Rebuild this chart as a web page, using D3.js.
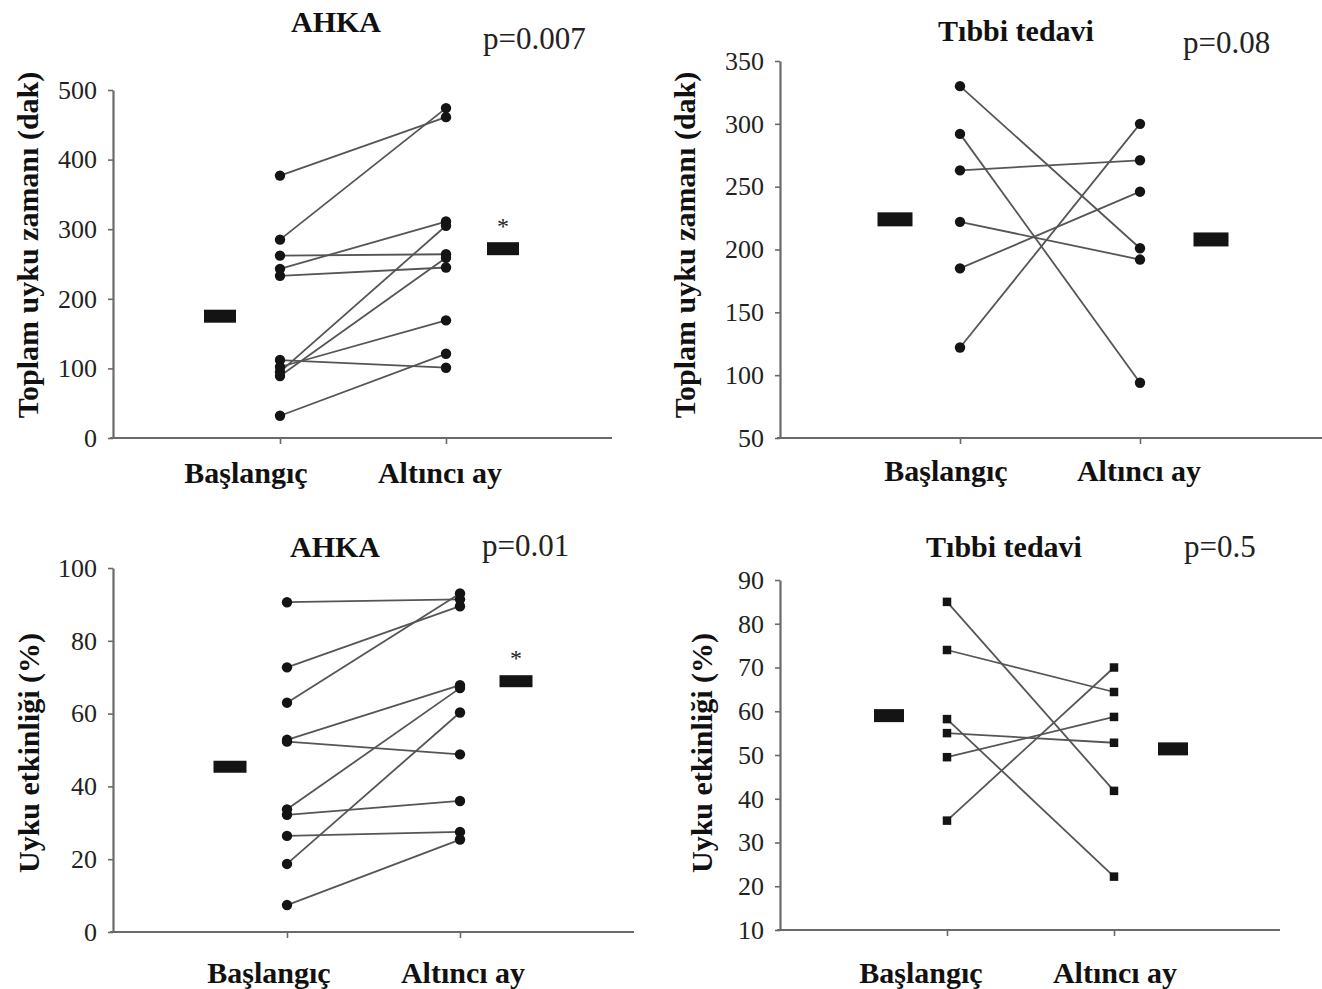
<!DOCTYPE html>
<html>
<head>
<meta charset="utf-8">
<script src="https://cdn.jsdelivr.net/npm/d3@7"></script>
<style>
  body { margin: 0; background: #fff; }
  svg { display: block; }
  text { font-family: "Liberation Serif", "Times New Roman", Times, serif; }
</style>
</head>
<body>
<svg id="chart" width="1322" height="989"></svg>
<script>
// ---- Data -------------------------------------------------------------
const categories = ["Başlangıç", "Altıncı ay"];

// Toplam uyku zamanı (dak) — AHKA
const tstAhkaBaseline = [377, 285, 262, 243, 233, 112, 102, 95, 89, 32];
const tstAhkaMonth6   = [461, 474, 264, 311, 245, 101, 169, 305, 259, 121];
const tstAhkaMeans    = [175, 272];
const tstAhkaTicks    = [0, 100, 200, 300, 400, 500];

// Toplam uyku zamanı (dak) — Tıbbi tedavi
const tstMedBaseline = [330, 292, 263, 222, 185, 122];
const tstMedMonth6   = [201, 94, 271, 192, 246, 300];
const tstMedMeans    = [224, 208];
const tstMedTicks    = [50, 100, 150, 200, 250, 300, 350];

// Uyku etkinliği (%) — AHKA
const effAhkaBaseline = [90.6, 72.7, 63, 52.8, 52.3, 33.7, 32.2, 26.4, 18.7, 7.4];
const effAhkaMonth6   = [91.4, 89.5, 93, 67.8, 48.8, 67.0, 36, 27.5, 60.3, 25.4];
const effAhkaMeans    = [45.4, 68.9];
const effAhkaTicks    = [0, 20, 40, 60, 80, 100];

// Uyku etkinliği (%) — Tıbbi tedavi
const effMedBaseline = [85, 74, 58.2, 55, 49.5, 35];
const effMedMonth6   = [41.8, 64.4, 22.2, 52.8, 58.7, 70];
const effMedMeans    = [59, 51.4];
const effMedTicks    = [10, 20, 30, 40, 50, 60, 70, 80, 90];

const groupTitles = ["AHKA", "Tıbbi tedavi", "AHKA", "Tıbbi tedavi"];
const pValues     = ["p=0.007", "p=0.08", "p=0.01", "p=0.5"];
const yTitles     = ["Toplam uyku zamanı (dak)", "Toplam uyku zamanı (dak)",
                     "Uyku etkinliği (%)", "Uyku etkinliği (%)"];

// ---- Panel layout -----------------------------------------------------
const panels = [
  { base: tstAhkaBaseline, six: tstAhkaMonth6, means: tstAhkaMeans, ticks: tstAhkaTicks,
    domain: [0, 500], range: [438, 90], axisX: 113, axisY: 438, extent: [110, 612],
    catX: [280, 446], labelX: [246, 440], labelY: 483,
    meanOff: [-60, 57], meanW: 32, meanH: 13,
    titleXY: [336, 32], pXY: [483, 49], yTitleXY: [27, 245], star: true, marker: "circle" },
  { base: tstMedBaseline, six: tstMedMonth6, means: tstMedMeans, ticks: tstMedTicks,
    domain: [50, 350], range: [438, 61], axisX: 780, axisY: 438, extent: [777, 1322],
    catX: [960, 1140], labelX: [946, 1139], labelY: 481,
    meanOff: [-65, 71], meanW: 35, meanH: 14,
    titleXY: [1016, 41], pXY: [1183, 53], yTitleXY: [684, 245], star: false, marker: "circle" },
  { base: effAhkaBaseline, six: effAhkaMonth6, means: effAhkaMeans, ticks: effAhkaTicks,
    domain: [0, 100], range: [932, 568], axisX: 113, axisY: 932, extent: [110, 634],
    catX: [287, 460], labelX: [269, 463], labelY: 983,
    meanOff: [-57, 56], meanW: 33, meanH: 12,
    titleXY: [335, 557], pXY: [482, 556], yTitleXY: [28, 753], star: true, marker: "circle" },
  { base: effMedBaseline, six: effMedMonth6, means: effMedMeans, ticks: effMedTicks,
    domain: [10, 90], range: [930, 580], axisX: 780, axisY: 930, extent: [777, 1280],
    catX: [947, 1114], labelX: [921, 1115], labelY: 983,
    meanOff: [-58, 59], meanW: 30, meanH: 13,
    titleXY: [1004, 557], pXY: [1184, 557], yTitleXY: [701, 753], star: false, marker: "square" }
];

const AXIS_COLOR = "#6a6a6a";
const LINE_COLOR = "#555";
const MARK_COLOR = "#141414";

const svg = d3.select("#chart");

panels.forEach((p, pi) => {
  const g = svg.append("g");
  const y = d3.scaleLinear().domain(p.domain).range(p.range);
  const x = d3.scaleOrdinal().domain(categories).range(p.catX);

  // y axis
  const yAxis = d3.axisLeft(y).tickValues(p.ticks).tickSize(5).tickSizeOuter(0).tickPadding(11);
  const ya = g.append("g").attr("transform", `translate(${p.axisX},0)`).call(yAxis);
  ya.select(".domain").attr("stroke", AXIS_COLOR).attr("stroke-width", 2.2);
  ya.selectAll(".tick line").attr("stroke", AXIS_COLOR).attr("stroke-width", 1.6);
  ya.selectAll(".tick text")
    .attr("font-size", 26).attr("fill", "#222")
    .style("font-family", '"Liberation Serif", "Times New Roman", serif');

  // x axis baseline
  g.append("line")
    .attr("x1", p.extent[0]).attr("x2", p.extent[1])
    .attr("y1", p.axisY).attr("y2", p.axisY)
    .attr("stroke", AXIS_COLOR).attr("stroke-width", 2.2);

  // x category ticks
  const xAxis = d3.axisBottom(x).tickSize(6).tickFormat("");
  const xa = g.append("g").attr("transform", `translate(0,${p.axisY})`).call(xAxis);
  xa.select(".domain").remove();
  xa.selectAll(".tick line").attr("stroke", AXIS_COLOR).attr("stroke-width", 1.6);

  // category labels
  g.selectAll(".cat").data(categories).enter().append("text")
    .attr("x", (d, i) => p.labelX[i]).attr("y", p.labelY)
    .attr("text-anchor", "middle").attr("font-size", 30).attr("font-weight", "bold")
    .attr("fill", "#111").text(d => d);

  // paired lines
  const pairs = p.base.map((b, i) => [b, p.six[i]]);
  g.selectAll(".pair").data(pairs).enter().append("line")
    .attr("x1", x(categories[0])).attr("y1", d => y(d[0]))
    .attr("x2", x(categories[1])).attr("y2", d => y(d[1]))
    .attr("stroke", LINE_COLOR).attr("stroke-width", 1.8);

  // markers
  const pts = [];
  p.base.forEach(v => pts.push({ c: categories[0], v }));
  p.six.forEach(v => pts.push({ c: categories[1], v }));
  if (p.marker === "circle") {
    g.selectAll(".pt").data(pts).enter().append("circle")
      .attr("cx", d => x(d.c)).attr("cy", d => y(d.v)).attr("r", 5.2)
      .attr("fill", MARK_COLOR);
  } else {
    const s = 8.5;
    g.selectAll(".pt").data(pts).enter().append("rect")
      .attr("x", d => x(d.c) - s / 2).attr("y", d => y(d.v) - s / 2)
      .attr("width", s).attr("height", s).attr("fill", MARK_COLOR);
  }

  // group means
  g.selectAll(".mean").data(p.means).enter().append("rect")
    .attr("x", (d, i) => x(categories[i]) + p.meanOff[i] - p.meanW / 2)
    .attr("y", d => y(d) - p.meanH / 2)
    .attr("width", p.meanW).attr("height", p.meanH)
    .attr("fill", MARK_COLOR);

  if (p.star) {
    g.append("text")
      .attr("x", x(categories[1]) + p.meanOff[1])
      .attr("y", y(p.means[1]) - 15)
      .attr("text-anchor", "middle").attr("font-size", 24).attr("fill", "#222")
      .text("*");
  }

  // titles
  g.append("text").attr("x", p.titleXY[0]).attr("y", p.titleXY[1])
    .attr("text-anchor", "middle").attr("font-size", 30).attr("font-weight", "bold")
    .attr("fill", "#111").text(groupTitles[pi]);
  g.append("text").attr("x", p.pXY[0]).attr("y", p.pXY[1])
    .attr("font-size", 31).attr("fill", "#222").text(pValues[pi]);

  // y axis title
  g.append("text")
    .attr("transform", `translate(${p.yTitleXY[0]},${p.yTitleXY[1]}) rotate(-90)`)
    .attr("text-anchor", "middle").attr("dominant-baseline", "central")
    .attr("font-size", 30).attr("font-weight", "bold").attr("fill", "#111")
    .text(yTitles[pi]);
});
</script>
</body>
</html>
